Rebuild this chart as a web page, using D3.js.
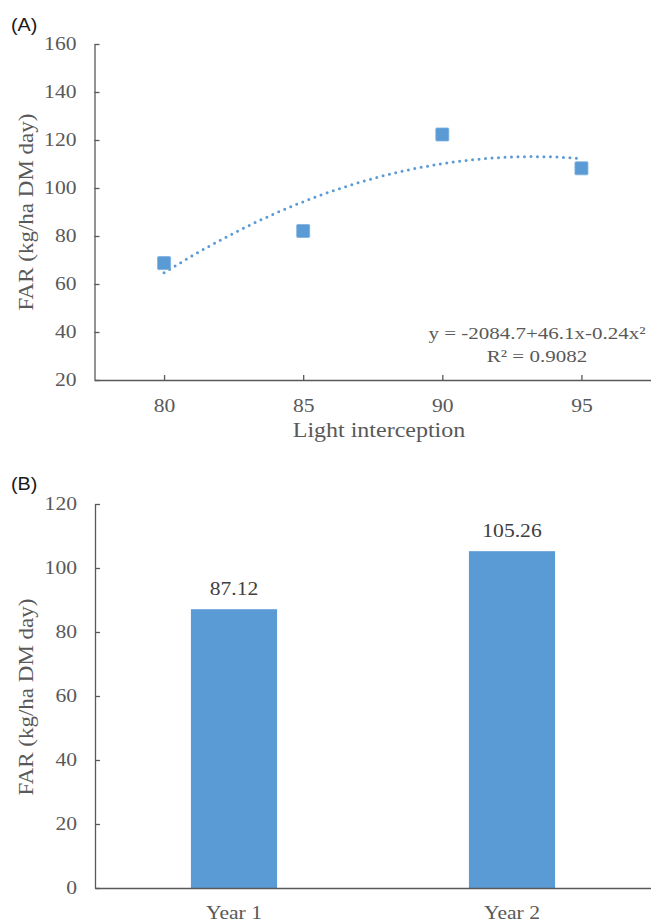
<!DOCTYPE html>
<html>
<head>
<meta charset="utf-8">
<script src="https://cdn.jsdelivr.net/npm/d3@7"></script>
<style>
  body { margin: 0; background: #fff; }
  svg { display: block; }
</style>
</head>
<body>
<div id="chart"></div>
<script>
// panel A data: FAR against light interception
const lightInterception = [80, 85, 90, 95];
const farScatter = [68.7, 82.1, 122.3, 108.2];
const xTicksA = [80, 85, 90, 95];
const yTicksA = [20, 40, 60, 80, 100, 120, 140, 160];
const equationLines = ["y = -2084.7+46.1x-0.24x\u00b2", "R\u00b2 = 0.9082"];

// panel B data: FAR by year
const years = ["Year 1", "Year 2"];
const farByYear = [87.12, 105.26];
const barLabels = ["87.12", "105.26"];
const yTicksB = [0, 20, 40, 60, 80, 100, 120];

const yTitle = "FAR (kg/ha DM day)";
const xTitleA = "Light interception";

const width = 651;
const height = 921;
const blue = "#5b9bd5";
const grey = "#595959";
const serif = "'Liberation Serif', 'Times New Roman', serif";

const svg = d3.select("#chart")
  .append("svg")
  .attr("width", width)
  .attr("height", height)
  .style("background", "#fff");

// the source font is wider than Times, so stretch text horizontally
function stretch(sel, k) {
  sel.each(function () {
    const t = d3.select(this);
    const x = +t.attr("x") || 0;
    const y = +t.attr("y") || 0;
    const prev = t.attr("transform") || "";
    t.attr("x", 0).attr("y", 0)
      .attr("transform", `${prev} translate(${x},${y}) scale(${k},1)`);
  });
}

function styleAxis(g) {
  g.select(".domain").attr("stroke", grey).attr("stroke-width", 1.3);
  g.selectAll(".tick line").attr("stroke", grey).attr("stroke-width", 1.3);
  g.selectAll(".tick text")
    .attr("fill", grey)
    .style("font-family", serif)
    .style("font-size", "18px");
}

// least squares quadratic fit (the Excel trendline)
function quadFit(xs, ys) {
  const S = k => d3.sum(xs, x => Math.pow(x, k));
  const T = k => d3.sum(xs, (x, i) => Math.pow(x, k) * ys[i]);
  const m = [[S(0), S(1), S(2), T(0)], [S(1), S(2), S(3), T(1)], [S(2), S(3), S(4), T(2)]];
  for (let c = 0; c < 3; c++) {
    for (let r = c + 1; r < 3; r++) {
      const f = m[r][c] / m[c][c];
      for (let k = c; k < 4; k++) m[r][k] -= f * m[c][k];
    }
  }
  const b = [0, 0, 0];
  for (let r = 2; r >= 0; r--) {
    let s = m[r][3];
    for (let k = r + 1; k < 3; k++) s -= m[r][k] * b[k];
    b[r] = s / m[r][r];
  }
  return x => b[0] + b[1] * x + b[2] * x * x;
}

// ---------- Panel A ----------
const xA = d3.scaleLinear().domain([77.5, 97.5]).range([94.5, 651]);
const yA = d3.scaleLinear().domain([20, 160]).range([380, 44]);

svg.append("text")
  .attr("x", 11).attr("y", 31)
  .attr("fill", "#1a1a1a")
  .style("font-family", "'Liberation Sans', Arial, sans-serif")
  .style("font-size", "18px")
  .text("(A)")
  .call(stretch, 1.1);

svg.append("g")
  .attr("transform", `translate(${xA.range()[0]},0)`)
  .call(d3.axisLeft(yA).tickValues(yTicksA).tickSize(-5).tickSizeOuter(0).tickPadding(18))
  .call(styleAxis)
  .call(g => g.selectAll(".tick text").call(stretch, 1.2));

svg.append("g")
  .attr("transform", `translate(0,${yA.range()[0]})`)
  .call(d3.axisBottom(xA).tickValues(xTicksA).tickSize(-5).tickSizeOuter(0).tickPadding(19))
  .call(styleAxis)
  .call(g => g.selectAll(".tick text").call(stretch, 1.2));

svg.append("text")
  .attr("text-anchor", "middle")
  .attr("x", 379).attr("y", 437)
  .attr("fill", grey)
  .style("font-family", serif)
  .style("font-size", "20px")
  .text(xTitleA)
  .call(stretch, 1.2);

svg.append("text")
  .attr("text-anchor", "middle")
  .attr("transform", "rotate(-90)")
  .attr("x", -212).attr("y", 33)
  .attr("fill", grey)
  .style("font-family", serif)
  .style("font-size", "20px")
  .text(yTitle)
  .call(stretch, 1.15);

// trendline
const fit = quadFit(lightInterception, farScatter);
const xMin = d3.min(lightInterception), xMax = d3.max(lightInterception);
const curveX = d3.range(xMin, xMax + 0.001, 0.25);
svg.append("path")
  .datum(curveX)
  .attr("fill", "none")
  .attr("stroke", blue)
  .attr("stroke-width", 3)
  .attr("stroke-linecap", "round")
  .attr("stroke-dasharray", "0 6.5")
  .attr("d", d3.line().x(d => xA(d)).y(d => yA(fit(d))).curve(d3.curveMonotoneX));

// markers
svg.append("g")
  .selectAll("rect")
  .data(lightInterception)
  .join("rect")
  .attr("x", d => xA(d) - 6.5)
  .attr("y", (d, i) => yA(farScatter[i]) - 6.5)
  .attr("width", 13)
  .attr("height", 13)
  .attr("rx", 1)
  .attr("fill", blue)
  .attr("stroke", "#7aaede")
  .attr("stroke-width", 0.8);

svg.append("g")
  .selectAll("text")
  .data(equationLines)
  .join("text")
  .attr("text-anchor", "middle")
  .attr("x", 537)
  .attr("y", (d, i) => 339 + i * 23)
  .attr("fill", grey)
  .style("font-family", serif)
  .style("font-size", "17.5px")
  .text(d => d)
  .call(stretch, 1.2);

// ---------- Panel B ----------
const xB = d3.scaleBand().domain(years).range([95, 651]).paddingInner(0.69).paddingOuter(0.345);
const yB = d3.scaleLinear().domain([0, 120]).range([888, 504]);

svg.append("text")
  .attr("x", 11).attr("y", 490)
  .attr("fill", "#1a1a1a")
  .style("font-family", "'Liberation Sans', Arial, sans-serif")
  .style("font-size", "18px")
  .text("(B)")
  .call(stretch, 1.1);

svg.append("g")
  .selectAll("rect")
  .data(years)
  .join("rect")
  .attr("x", d => xB(d))
  .attr("y", (d, i) => yB(farByYear[i]))
  .attr("width", xB.bandwidth())
  .attr("height", (d, i) => yB(0) - yB(farByYear[i]))
  .attr("fill", blue);

svg.append("g")
  .selectAll("text")
  .data(years)
  .join("text")
  .attr("text-anchor", "middle")
  .attr("x", d => xB(d) + xB.bandwidth() / 2)
  .attr("y", (d, i) => yB(farByYear[i]) - 14.5)
  .attr("fill", "#404040")
  .style("font-family", serif)
  .style("font-size", "18px")
  .text((d, i) => barLabels[i])
  .call(stretch, 1.2);

svg.append("g")
  .attr("transform", `translate(${xB.range()[0]},0)`)
  .call(d3.axisLeft(yB).tickValues(yTicksB).tickSize(-5).tickSizeOuter(0).tickPadding(18))
  .call(styleAxis)
  .call(g => g.selectAll(".tick text").call(stretch, 1.2));

svg.append("g")
  .attr("transform", `translate(0,${yB.range()[0]})`)
  .call(d3.axisBottom(xB).tickSize(0).tickSizeOuter(0).tickPadding(18))
  .call(styleAxis)
  .call(g => g.selectAll(".tick text").call(stretch, 1.2));

svg.append("text")
  .attr("text-anchor", "middle")
  .attr("transform", "rotate(-90)")
  .attr("x", -697).attr("y", 33)
  .attr("fill", grey)
  .style("font-family", serif)
  .style("font-size", "20px")
  .text(yTitle)
  .call(stretch, 1.15);
</script>
</body>
</html>
